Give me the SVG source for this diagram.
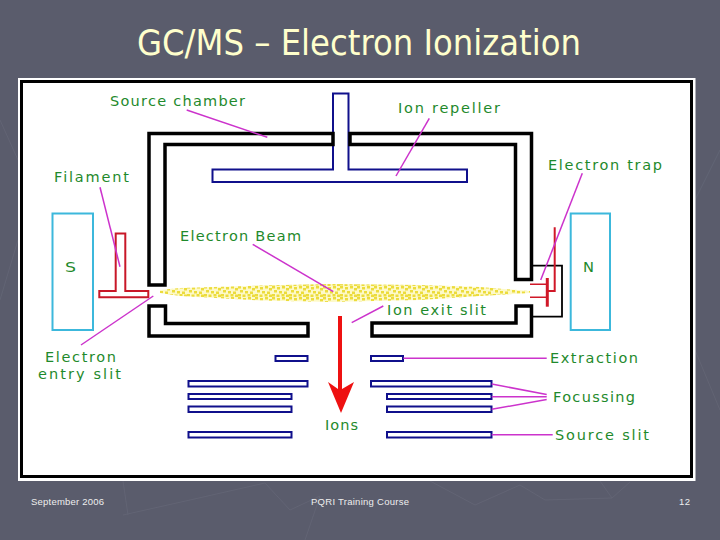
<svg xmlns="http://www.w3.org/2000/svg" width="720" height="540" viewBox="0 0 720 540">
<style>
.bg{fill:#5a5c6c}
.deco{fill:none;stroke:#626474;stroke-width:1}
.wall{fill:#fff;stroke:#000;stroke-width:3.5;stroke-linejoin:miter}
.navy{fill:#fff;stroke:#10108c;stroke-width:2}
.mag{fill:#fff;stroke:#3cb8dc;stroke-width:2}
.red{fill:#fff;stroke:#c81828;stroke-width:2}
.redline{fill:none;stroke:#d01828}
.lead{fill:none;stroke:#cc33cc;stroke-width:1.500}
.lab{font-family:"DejaVu Sans",sans-serif;font-size:14.500px;fill:#1f8a2c}
.foot{font-family:"Liberation Sans",Arial,sans-serif;font-size:9.500px;fill:#eeeeee}
.title{font-family:"DejaVu Sans",sans-serif;font-size:35px;fill:#ffffcc}
</style>
<defs>
<pattern id="dots" width="17" height="11" patternUnits="userSpaceOnUse">
<rect width="17" height="11" fill="#fdf9c8"/>
<g fill="#ecdc3c">
<rect x="0" y="0" width="3" height="2.500"/><rect x="5" y="1" width="3" height="2.500"/><rect x="10" y="0" width="3" height="2.500"/><rect x="14" y="2" width="3" height="2.500"/>
<rect x="2" y="4" width="3" height="2.500"/><rect x="7" y="5" width="3" height="2.500"/><rect x="12" y="5.500" width="3" height="2.500"/>
<rect x="0" y="8" width="3" height="2.500"/><rect x="4.500" y="8.500" width="3" height="2.500"/><rect x="9.500" y="8" width="3" height="2.500"/><rect x="14" y="8.500" width="3" height="2.500"/>
</g>
</pattern>
</defs>
<rect class="bg" width="720" height="540"/>
<g id="background-pattern">
<path class="deco" d="M123,481 L128,515 M123,515 L190,500 L265,483 L290,510 L320,496 L305,540"/>
<path class="deco" d="M430,481 L475,505 L520,485 L545,500 L612,498 L600,481 M612,498 L630,482"/>
<path class="deco" d="M0,300 L18,240 M0,120 L18,160 M695,200 L720,150 M695,350 L720,410"/>
</g>
<text id="title" class="title" x="137" y="55" textLength="444" lengthAdjust="spacingAndGlyphs">GC/MS – Electron Ionization</text>
<g id="frame">
<rect x="18" y="78" width="677.500" height="403" fill="#fff"/>
<rect x="21.500" y="81.500" width="670" height="395" fill="#fff" stroke="#000" stroke-width="3"/>
</g>
<g id="ion-repeller"><path class="navy" d="M333,93.500 H348.500 V169.500 H467 V182 H212.500 V169.500 H333 Z"/></g>
<g id="source-chamber">
<path class="wall" d="M333,133.500 H149 V285 H165 V144.500 H333 Z" fill-opacity="0"/>
<path class="wall" d="M350,133.500 H531.500 V279.500 H515.500 V144.500 H350 Z" fill-opacity="0"/>
<path class="wall" d="M149,306 H165.500 V323.500 H308 V336 H149 Z"/>
<path class="wall" d="M372,323 H516 V306 H531.500 V336 H372 Z"/>
</g>
<g id="magnet-s"><rect class="mag" x="52.500" y="213.500" width="40.500" height="116.500"/><text class="lab" x="65" y="271.500" textLength="11" lengthAdjust="spacingAndGlyphs">S</text></g>
<g id="magnet-n"><rect class="mag" x="570.700" y="213.500" width="39.300" height="116.500"/><text class="lab" x="583" y="271.500" textLength="11" lengthAdjust="spacingAndGlyphs">N</text></g>
<g id="filament"><path class="red" d="M115.700,233.500 H125.300 V291 H148.300 V297.300 H99.300 V291 H115.700 Z"/></g>
<g id="electron-beam"><polygon fill="url(#dots)" points="160,290 180,288 260,285.500 330,284 420,285 480,287 530,291 530,293 480,296 420,300 330,302 260,300.500 180,296 160,293"/></g>
<g id="electron-trap">
<path d="M532,265.700 H562 V316.700 H532" fill="none" stroke="#000" stroke-width="1.800"/>
<path class="redline" stroke-width="1.500" d="M530,284.300 H547 M530,297.300 H547"/>
<path class="redline" stroke-width="2" d="M554.700,227.300 V291 H547"/>
<path class="redline" stroke-width="3" d="M547.300,278 V306.700"/>
</g>
<g id="electrodes">
<rect class="navy" x="275.500" y="356" width="32" height="5"/>
<rect class="navy" x="371" y="356" width="32" height="5"/>
<rect class="navy" x="188.500" y="381" width="119" height="5.500"/>
<rect class="navy" x="371" y="381" width="120.500" height="5.500"/>
<rect class="navy" x="188.500" y="394" width="103" height="5"/>
<rect class="navy" x="387" y="394" width="104.500" height="5"/>
<rect class="navy" x="188.500" y="406.500" width="103" height="5.500"/>
<rect class="navy" x="387" y="406.500" width="104.500" height="5.500"/>
<rect class="navy" x="188.500" y="432" width="103" height="5.500" stroke-width="2.500"/>
<rect class="navy" x="387" y="432" width="104.500" height="5.500" stroke-width="2.500"/>
</g>
<g id="ion-arrow"><polygon points="338,316 342,316 342,389 354,382 341,413 328,382 338,389" fill="#ee1111"/></g>
<g id="connectors">
<path class="lead" d="M186.700,110 L267.300,137.300"/>
<path class="lead" stroke-width="2" d="M100,187.300 L120,266.700"/>
<path class="lead" d="M252.700,244.300 L333.300,291.700"/>
<path class="lead" d="M153.300,296 L81,345"/>
<path class="lead" d="M429.300,118.300 L396,176"/>
<path class="lead" d="M582.300,173.300 L540.700,280"/>
<path class="lead" d="M383.300,306 L351.700,322.700"/>
<path class="lead" d="M403.300,358.300 H546.700"/>
<path class="lead" d="M491.700,384 L546.700,394.500"/>
<path class="lead" d="M491.700,396.700 L546.700,396.700"/>
<path class="lead" d="M491.700,409.300 L546.700,399.500"/>
<path class="lead" stroke-width="2" d="M491.700,434.700 H552.700"/>
</g>
<g id="labels">
<text class="lab" x="110" y="106" textLength="135">Source chamber</text>
<text class="lab" x="54" y="182" textLength="75">Filament</text>
<text class="lab" x="180" y="241" textLength="121">Electron Beam</text>
<text class="lab" x="45" y="361.500" textLength="71">Electron</text>
<text class="lab" x="38" y="379" textLength="83">entry slit</text>
<text class="lab" x="398" y="112.500" textLength="102">Ion repeller</text>
<text class="lab" x="548" y="170" textLength="114">Electron trap</text>
<text class="lab" x="387" y="315" textLength="99">Ion exit slit</text>
<text class="lab" x="550" y="363" textLength="88">Extraction</text>
<text class="lab" x="553" y="401.500" textLength="82">Focussing</text>
<text class="lab" x="325" y="430" textLength="33">Ions</text>
<text class="lab" x="555" y="440" textLength="94">Source slit</text>
</g>
<g id="footer">
<text class="foot" x="31" y="505" textLength="73">September 2006</text>
<text class="foot" x="311" y="505" textLength="98">PQRI Training Course</text>
<text class="foot" x="679" y="505" textLength="11">12</text>
</g>
</svg>
